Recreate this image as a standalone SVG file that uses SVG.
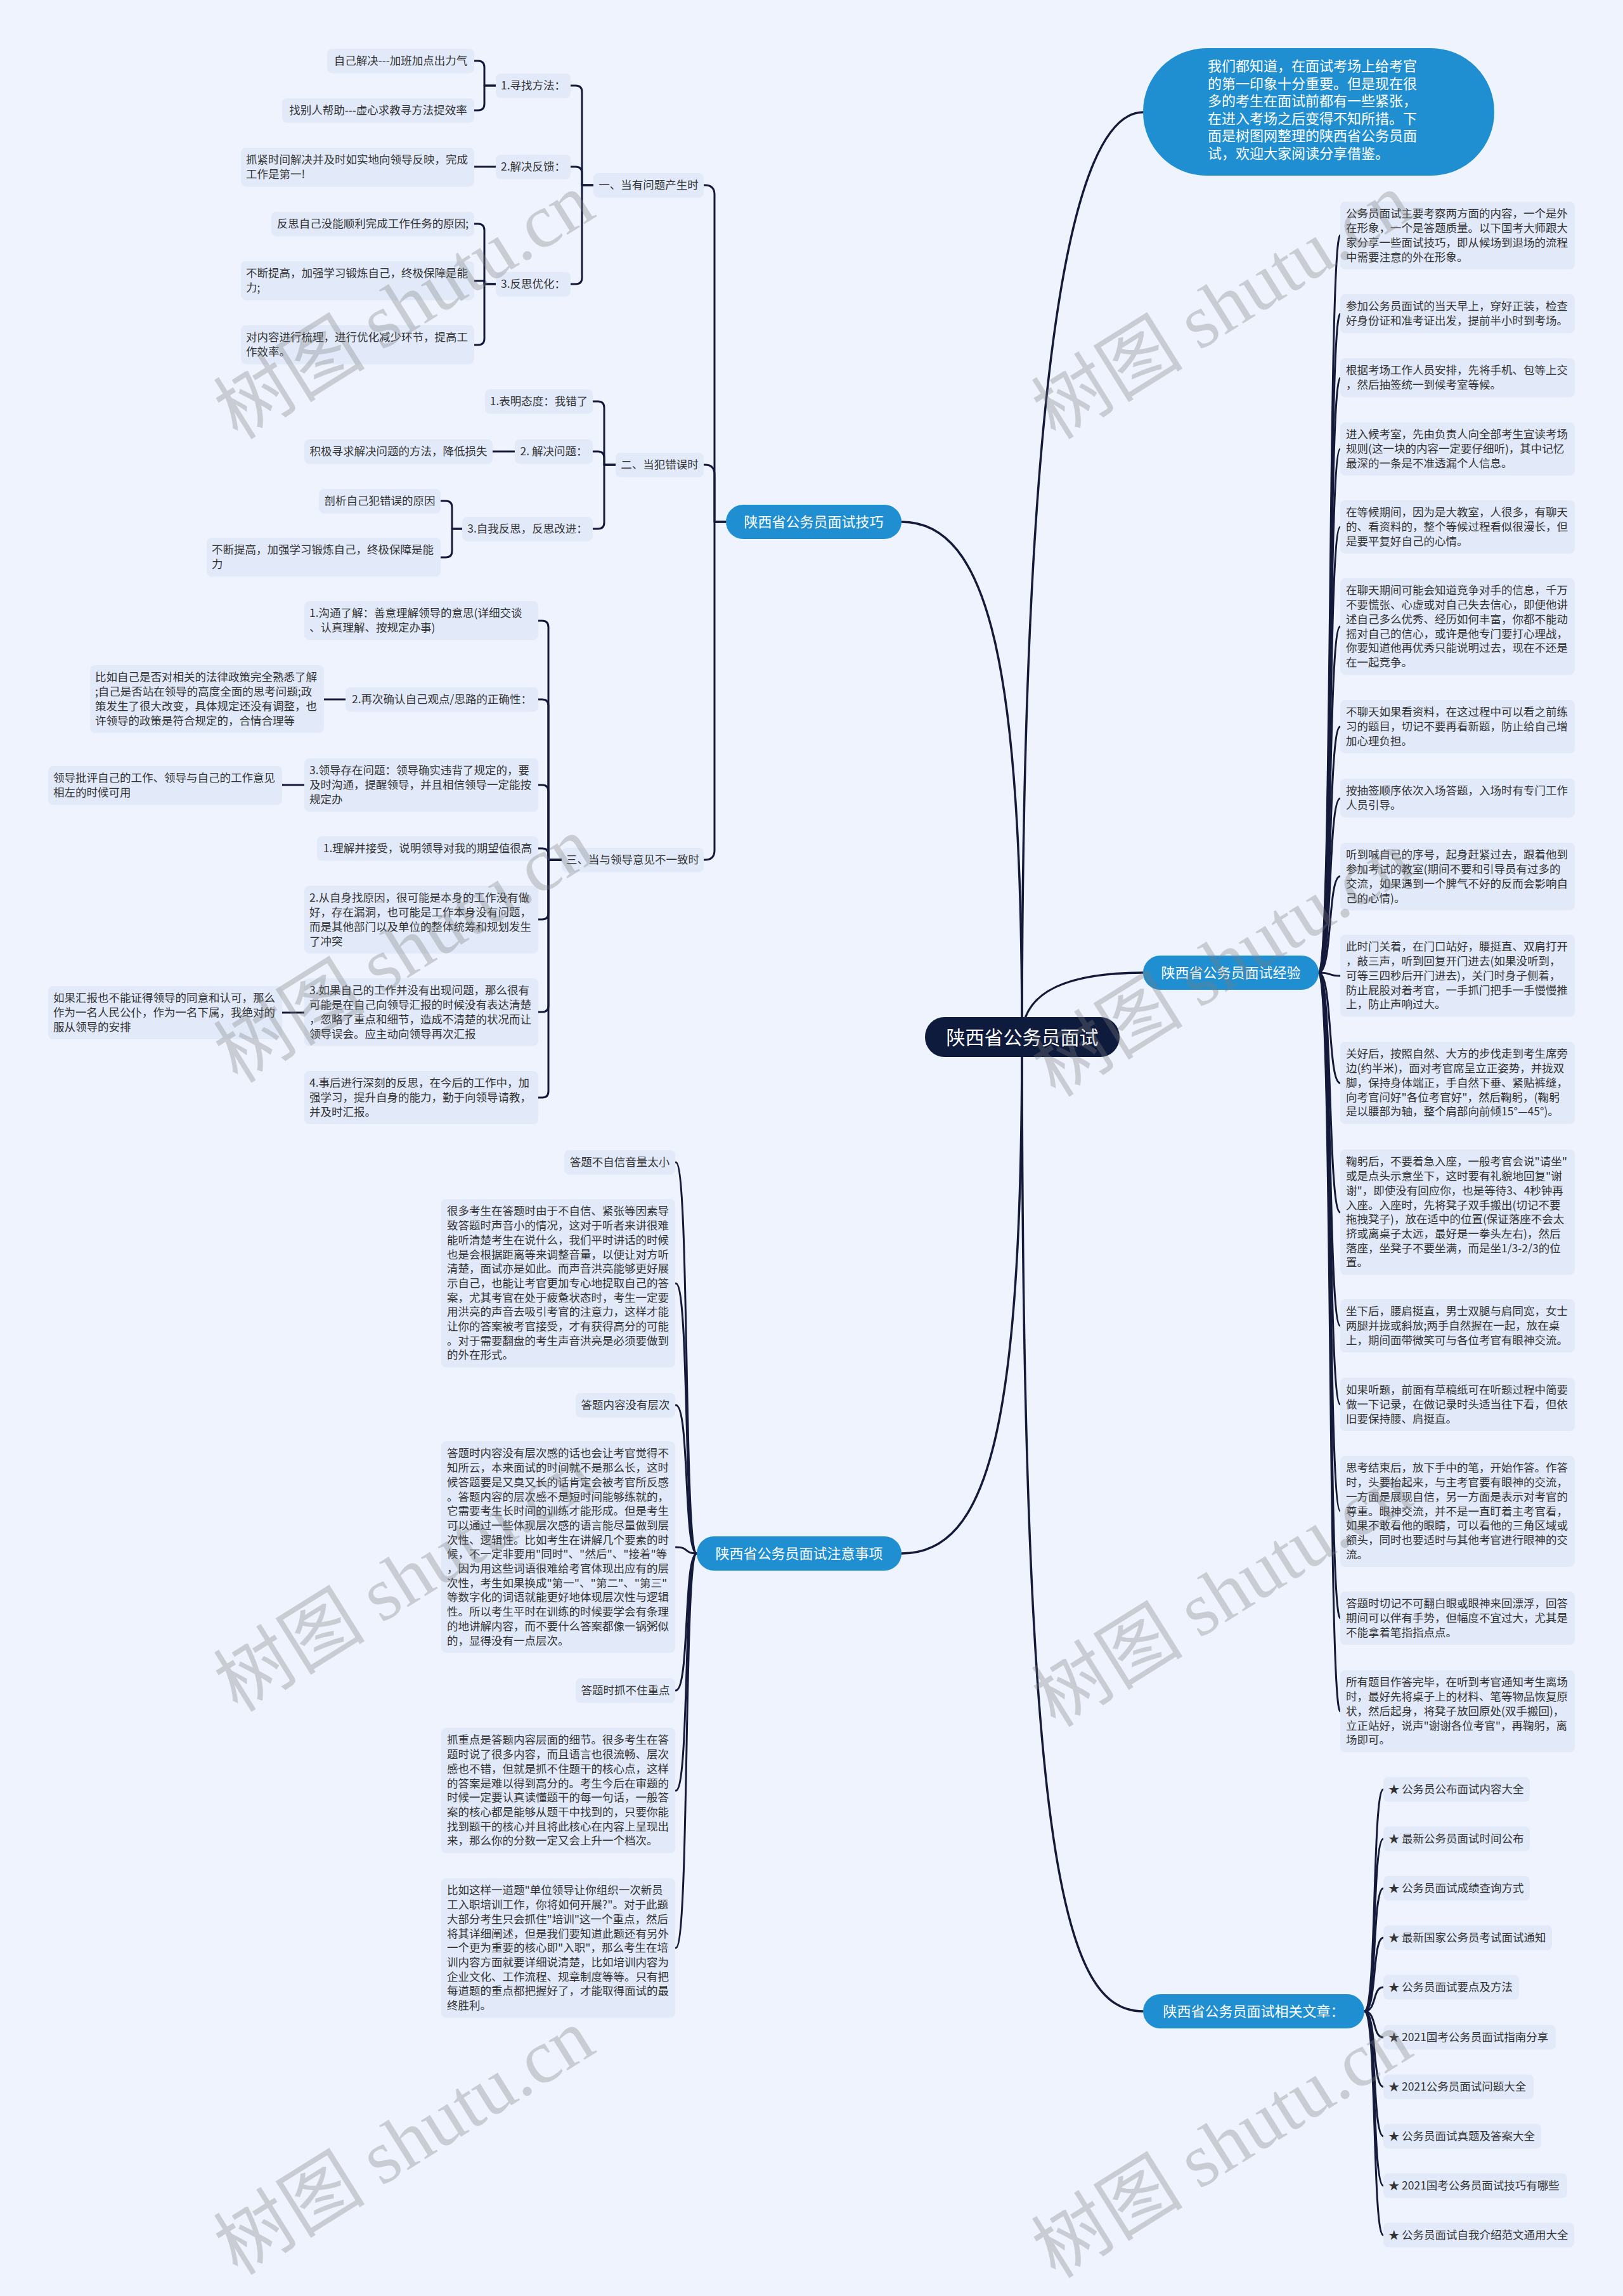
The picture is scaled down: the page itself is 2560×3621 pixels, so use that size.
<svg xmlns="http://www.w3.org/2000/svg" width="2560" height="3621" viewBox="0 0 2560 3621">
<style>
.t{font-family:"Noto Sans CJK SC","Noto Sans",sans-serif;font-size:17.5px;fill:#333}
.m{text-anchor:middle}
.n{fill:#e2eafa}
.ln{fill:none;stroke:#151a3a;stroke-width:3;stroke-linecap:round;stroke-linejoin:round}
.ml{fill:none;stroke:#151a3a;stroke-width:3.5;stroke-linecap:round}
.br{fill:#1f8fd2}
.bt{font-family:"Noto Sans CJK SC","Noto Sans",sans-serif;font-size:22px;fill:#fff;text-anchor:middle}
.bb{font-family:"Noto Sans CJK SC","Noto Sans",sans-serif;font-size:22px;fill:#fff}
.ct{font-family:"Noto Sans CJK SC","Noto Sans",sans-serif;font-size:30px;fill:#fff;text-anchor:middle}
.wm{font-family:"Noto Sans CJK SC",sans-serif;font-size:120px;fill:#7d7d7d;fill-opacity:0.32}
.ws{font-family:"Liberation Serif",serif}
</style>
<rect x="0" y="0" width="2560" height="3621" fill="#eef3fd"/>

<g id="connectors">
  <path class="ml" d="M1612 1636 C1612 1050 1560 823 1422 823"/>
  <path class="ml" d="M1612 1636 C1612 650 1680 177 1803 177"/>
  <path class="ml" d="M1612 1636 C1612 1560 1690 1534 1803 1534"/>
  <path class="ml" d="M1612 1636 C1612 2250 1560 2450 1422 2450"/>
  <path class="ml" d="M1612 1636 C1612 2950 1680 3172 1803 3172"/>
  <path class="ln" d="M1145 823 H1127 V307 Q1127 292 1112 292 H1110"/>
  <path class="ln" d="M1145 823 H1127 V748 Q1127 733 1112 733 H1110"/>
  <path class="ln" d="M1145 823 H1127 V1341 Q1127 1356 1112 1356 H1110"/>
  <path class="ln" d="M936 292 H918 V145 Q918 135 908 135 H900"/>
  <path class="ln" d="M936 292 H918 V273 Q918 263 908 263 H900"/>
  <path class="ln" d="M936 292 H918 V438 Q918 448 908 448 H900"/>
  <path class="ln" d="M782 135 H764 V106 Q764 96 754 96 H748"/>
  <path class="ln" d="M782 135 H764 V164 Q764 174 754 174 H748"/>
  <path class="ln" d="M782 263 H748"/>
  <path class="ln" d="M782 448 H764 V363 Q764 353 754 353 H748"/>
  <path class="ln" d="M782 448 H764 V443 H748"/>
  <path class="ln" d="M782 448 H764 V534 Q764 544 754 544 H748"/>
  <path class="ln" d="M971 733 H953 V643 Q953 633 943 633 H935"/>
  <path class="ln" d="M971 733 H953 V722 Q953 712 943 712 H935"/>
  <path class="ln" d="M971 733 H953 V824 Q953 834 943 834 H935"/>
  <path class="ln" d="M812 712 H777"/>
  <path class="ln" d="M729 834 H713 V800 Q713 790 703 790 H695"/>
  <path class="ln" d="M729 834 H713 V869 Q713 879 703 879 H695"/>
  <path class="ln" d="M886 1356 H865 V989 Q865 979 855 979 H849"/>
  <path class="ln" d="M886 1356 H865 V1113 Q865 1103 855 1103 H849"/>
  <path class="ln" d="M886 1356 H865 V1248 Q865 1238 855 1238 H849"/>
  <path class="ln" d="M886 1356 H865 V1348 Q865 1338 855 1338 H849"/>
  <path class="ln" d="M886 1356 H865 V1440 Q865 1450 855 1450 H849"/>
  <path class="ln" d="M886 1356 H865 V1586 Q865 1596 855 1596 H849"/>
  <path class="ln" d="M886 1356 H865 V1721 Q865 1731 855 1731 H849"/>
  <path class="ln" d="M545 1103 H511"/>
  <path class="ln" d="M480 1238 H445"/>
  <path class="ln" d="M480 1597 H445"/>
  <path class="ln" d="M1099 2450 C1078 2450 1088 1833 1066 1833"/>
  <path class="ln" d="M1099 2450 C1078 2450 1088 2024 1066 2024"/>
  <path class="ln" d="M1099 2450 C1078 2450 1088 2216 1066 2216"/>
  <path class="ln" d="M1099 2450 C1078 2450 1088 2440 1066 2440"/>
  <path class="ln" d="M1099 2450 C1078 2450 1088 2666 1066 2666"/>
  <path class="ln" d="M1099 2450 C1078 2450 1088 2824 1066 2824"/>
  <path class="ln" d="M1099 2450 C1078 2450 1088 3072 1066 3072"/>
  <path class="ln" d="M2080 1534 C2102 1534 2094 371 2114 371"/>
  <path class="ln" d="M2080 1534 C2102 1534 2094 495 2114 495"/>
  <path class="ln" d="M2080 1534 C2102 1534 2094 596 2114 596"/>
  <path class="ln" d="M2080 1534 C2102 1534 2094 708 2114 708"/>
  <path class="ln" d="M2080 1534 C2102 1534 2094 831 2114 831"/>
  <path class="ln" d="M2080 1534 C2102 1534 2094 988 2114 988"/>
  <path class="ln" d="M2080 1534 C2102 1534 2094 1146 2114 1146"/>
  <path class="ln" d="M2080 1534 C2102 1534 2094 1259 2114 1259"/>
  <path class="ln" d="M2080 1534 C2102 1534 2094 1382 2114 1382"/>
  <path class="ln" d="M2080 1534 C2102 1534 2094 1539 2114 1539"/>
  <path class="ln" d="M2080 1534 C2102 1534 2094 1708 2114 1708"/>
  <path class="ln" d="M2080 1534 C2102 1534 2094 1912 2114 1912"/>
  <path class="ln" d="M2080 1534 C2102 1534 2094 2091 2114 2091"/>
  <path class="ln" d="M2080 1534 C2102 1534 2094 2215 2114 2215"/>
  <path class="ln" d="M2080 1534 C2102 1534 2094 2383 2114 2383"/>
  <path class="ln" d="M2080 1534 C2102 1534 2094 2552 2114 2552"/>
  <path class="ln" d="M2080 1534 C2102 1534 2094 2699 2114 2699"/>
  <path class="ln" d="M2152 3172 C2172 3172 2164 2822 2182 2822"/>
  <path class="ln" d="M2152 3172 C2172 3172 2164 2900 2182 2900"/>
  <path class="ln" d="M2152 3172 C2172 3172 2164 2978 2182 2978"/>
  <path class="ln" d="M2152 3172 C2172 3172 2164 3056 2182 3056"/>
  <path class="ln" d="M2152 3172 C2172 3172 2164 3134 2182 3134"/>
  <path class="ln" d="M2152 3172 C2172 3172 2164 3213 2182 3213"/>
  <path class="ln" d="M2152 3172 C2172 3172 2164 3291 2182 3291"/>
  <path class="ln" d="M2152 3172 C2172 3172 2164 3369 2182 3369"/>
  <path class="ln" d="M2152 3172 C2172 3172 2164 3447 2182 3447"/>
  <path class="ln" d="M2152 3172 C2172 3172 2164 3525 2182 3525"/>
</g>

<g id="center"><rect x="1459" y="1604" width="307" height="63" rx="31" fill="#0f1b3d"/><text class="ct" x="1612.5" y="1647">陕西省公务员面试</text></g>

<g id="intro"><rect x="1803" y="76" width="554" height="201" rx="100" class="br"/>
<text class="bb" x="1905" y="112"><tspan x="1905">我们都知道，在面试考场上给考官</tspan><tspan x="1905" dy="27.5">的第一印象十分重要。但是现在很</tspan><tspan x="1905" dy="27.5">多的考生在面试前都有一些紧张，</tspan><tspan x="1905" dy="27.5">在进入考场之后变得不知所措。下</tspan><tspan x="1905" dy="27.5">面是树图网整理的陕西省公务员面</tspan><tspan x="1905" dy="27.5">试，欢迎大家阅读分享借鉴。</tspan></text></g>

<g id="b-jiqiao"><rect x="1145" y="796" width="277" height="54" rx="27" class="br"/><text class="bt" x="1283.5" y="831">陕西省公务员面试技巧</text></g>
<g id="b-jingyan"><rect x="1803" y="1507" width="277" height="54" rx="27" class="br"/><text class="bt" x="1941.5" y="1542">陕西省公务员面试经验</text></g>
<g id="b-zhuyi"><rect x="1099" y="2423" width="323" height="54" rx="27" class="br"/><text class="bt" x="1260.5" y="2458">陕西省公务员面试注意事项</text></g>
<g id="b-xiangguan"><rect x="1803" y="3145" width="349" height="54" rx="27" class="br"/><text class="bt" x="1977.5" y="3180">陕西省公务员面试相关文章：</text></g>

<g id="n1"><rect class="n" x="516" y="77" width="232" height="38.7" rx="8"/><text class="t m" x="632" y="102.4">自己解决---加班加点出力气</text></g>
<g id="n2"><rect class="n" x="445" y="155" width="303" height="38.7" rx="8"/><text class="t m" x="596.5" y="180.4">找别人帮助---虚心求教寻方法提效率</text></g>
<g id="n3"><rect class="n" x="782" y="116" width="118" height="38.7" rx="8"/><text class="t m" x="841" y="141.4">1.寻找方法：</text></g>
<g id="n4"><rect class="n" x="380" y="233" width="368" height="61.4" rx="8"/><text class="t" x="388" y="258.4"><tspan x="388">抓紧时间解决并及时如实地向领导反映，完成</tspan><tspan x="388" dy="22.7">工作是第一!</tspan></text></g>
<g id="n5"><rect class="n" x="782" y="244" width="118" height="38.7" rx="8"/><text class="t m" x="841" y="269.4">2.解决反馈：</text></g>
<g id="n6"><rect class="n" x="428" y="334" width="320" height="38.7" rx="8"/><text class="t m" x="588" y="359.4">反思自己没能顺利完成工作任务的原因;</text></g>
<g id="n7"><rect class="n" x="380" y="412" width="368" height="61.4" rx="8"/><text class="t" x="388" y="437.4"><tspan x="388">不断提高，加强学习锻炼自己，终极保障是能</tspan><tspan x="388" dy="22.7">力;</tspan></text></g>
<g id="n8"><rect class="n" x="380" y="513" width="368" height="61.4" rx="8"/><text class="t" x="388" y="538.4"><tspan x="388">对内容进行梳理，进行优化减少环节，提高工</tspan><tspan x="388" dy="22.7">作效率。</tspan></text></g>
<g id="n9"><rect class="n" x="782" y="429" width="118" height="38.7" rx="8"/><text class="t m" x="841" y="454.4">3.反思优化：</text></g>
<g id="n10"><rect class="n" x="936" y="273" width="174" height="38.7" rx="8"/><text class="t m" x="1023" y="298.4">一、当有问题产生时</text></g>
<g id="n11"><rect class="n" x="765" y="614" width="170" height="38.7" rx="8"/><text class="t m" x="850" y="639.4">1.表明态度：我错了</text></g>
<g id="n12"><rect class="n" x="480" y="693" width="297" height="38.7" rx="8"/><text class="t m" x="628.5" y="718.4">积极寻求解决问题的方法，降低损失</text></g>
<g id="n13"><rect class="n" x="812" y="693" width="123" height="38.7" rx="8"/><text class="t m" x="873.5" y="718.4">2. 解决问题：</text></g>
<g id="n14"><rect class="n" x="503" y="771" width="192" height="38.7" rx="8"/><text class="t m" x="599" y="796.4">剖析自己犯错误的原因</text></g>
<g id="n15"><rect class="n" x="326" y="848" width="369" height="61.4" rx="8"/><text class="t" x="334" y="873.4"><tspan x="334">不断提高，加强学习锻炼自己，终极保障是能</tspan><tspan x="334" dy="22.7">力</tspan></text></g>
<g id="n16"><rect class="n" x="729" y="815" width="206" height="38.7" rx="8"/><text class="t m" x="832" y="840.4">3.自我反思，反思改进：</text></g>
<g id="n17"><rect class="n" x="971" y="714" width="139" height="38.7" rx="8"/><text class="t m" x="1040.5" y="739.4">二、当犯错误时</text></g>
<g id="n18"><rect class="n" x="480" y="948" width="369" height="61.4" rx="8"/><text class="t" x="488" y="973.4"><tspan x="488">1.沟通了解：善意理解领导的意思(详细交谈</tspan><tspan x="488" dy="22.7">、认真理解、按规定办事)</tspan></text></g>
<g id="n19"><rect class="n" x="142" y="1049" width="369" height="106.8" rx="8"/><text class="t" x="150" y="1074.4"><tspan x="150">比如自己是否对相关的法律政策完全熟悉了解</tspan><tspan x="150" dy="22.7">;自己是否站在领导的高度全面的思考问题;政</tspan><tspan x="150" dy="22.7">策发生了很大改变，具体规定还没有调整，也</tspan><tspan x="150" dy="22.7">许领导的政策是符合规定的，合情合理等</tspan></text></g>
<g id="n20"><rect class="n" x="545" y="1084" width="304" height="38.7" rx="8"/><text class="t m" x="697" y="1109.4">2.再次确认自己观点/思路的正确性：</text></g>
<g id="n21"><rect class="n" x="76" y="1208" width="369" height="61.4" rx="8"/><text class="t" x="84" y="1233.4"><tspan x="84">领导批评自己的工作、领导与自己的工作意见</tspan><tspan x="84" dy="22.7">相左的时候可用</tspan></text></g>
<g id="n22"><rect class="n" x="480" y="1196" width="369" height="84.1" rx="8"/><text class="t" x="488" y="1221.4"><tspan x="488">3.领导存在问题：领导确实违背了规定的，要</tspan><tspan x="488" dy="22.7">及时沟通，提醒领导，并且相信领导一定能按</tspan><tspan x="488" dy="22.7">规定办</tspan></text></g>
<g id="n23"><rect class="n" x="500" y="1319" width="349" height="38.7" rx="8"/><text class="t m" x="674.5" y="1344.4">1.理解并接受，说明领导对我的期望值很高</text></g>
<g id="n24"><rect class="n" x="480" y="1397" width="369" height="106.8" rx="8"/><text class="t" x="488" y="1422.4"><tspan x="488">2.从自身找原因，很可能是本身的工作没有做</tspan><tspan x="488" dy="22.7">好，存在漏洞，也可能是工作本身没有问题，</tspan><tspan x="488" dy="22.7">而是其他部门以及单位的整体统筹和规划发生</tspan><tspan x="488" dy="22.7">了冲突</tspan></text></g>
<g id="n25"><rect class="n" x="76" y="1555" width="369" height="84.1" rx="8"/><text class="t" x="84" y="1580.4"><tspan x="84">如果汇报也不能证得领导的同意和认可，那么</tspan><tspan x="84" dy="22.7">作为一名人民公仆，作为一名下属，我绝对的</tspan><tspan x="84" dy="22.7">服从领导的安排</tspan></text></g>
<g id="n26"><rect class="n" x="480" y="1543" width="369" height="106.8" rx="8"/><text class="t" x="488" y="1568.4"><tspan x="488">3.如果自己的工作并没有出现问题，那么很有</tspan><tspan x="488" dy="22.7">可能是在自己向领导汇报的时候没有表达清楚</tspan><tspan x="488" dy="22.7">，忽略了重点和细节，造成不清楚的状况而让</tspan><tspan x="488" dy="22.7">领导误会。应主动向领导再次汇报</tspan></text></g>
<g id="n27"><rect class="n" x="480" y="1689" width="369" height="84.1" rx="8"/><text class="t" x="488" y="1714.4"><tspan x="488">4.事后进行深刻的反思，在今后的工作中，加</tspan><tspan x="488" dy="22.7">强学习，提升自身的能力，勤于向领导请教，</tspan><tspan x="488" dy="22.7">并及时汇报。</tspan></text></g>
<g id="n28"><rect class="n" x="886" y="1337" width="224" height="38.7" rx="8"/><text class="t m" x="998" y="1362.4">三、当与领导意见不一致时</text></g>

<g id="m1"><rect class="n" x="890" y="1814" width="175" height="38.7" rx="8"/><text class="t m" x="977.5" y="1839.4">答题不自信音量太小</text></g>
<g id="m2"><rect class="n" x="696" y="1891" width="369" height="265.7" rx="8"/><text class="t" x="705" y="1916.4"><tspan x="705">很多考生在答题时由于不自信、紧张等因素导</tspan><tspan x="705" dy="22.7">致答题时声音小的情况，这对于听者来讲很难</tspan><tspan x="705" dy="22.7">能听清楚考生在说什么，我们平时讲话的时候</tspan><tspan x="705" dy="22.7">也是会根据距离等来调整音量，以便让对方听</tspan><tspan x="705" dy="22.7">清楚，面试亦是如此。而声音洪亮能够更好展</tspan><tspan x="705" dy="22.7">示自己，也能让考官更加专心地提取自己的答</tspan><tspan x="705" dy="22.7">案，尤其考官在处于疲惫状态时，考生一定要</tspan><tspan x="705" dy="22.7">用洪亮的声音去吸引考官的注意力，这样才能</tspan><tspan x="705" dy="22.7">让你的答案被考官接受，才有获得高分的可能</tspan><tspan x="705" dy="22.7">。对于需要翻盘的考生声音洪亮是必须要做到</tspan><tspan x="705" dy="22.7">的外在形式。</tspan></text></g>
<g id="m3"><rect class="n" x="908" y="2197" width="157" height="38.7" rx="8"/><text class="t m" x="986.5" y="2222.4">答题内容没有层次</text></g>
<g id="m4"><rect class="n" x="696" y="2273" width="369" height="333.8" rx="8"/><text class="t" x="705" y="2298.4"><tspan x="705">答题时内容没有层次感的话也会让考官觉得不</tspan><tspan x="705" dy="22.7">知所云，本来面试的时间就不是那么长，这时</tspan><tspan x="705" dy="22.7">候答题要是又臭又长的话肯定会被考官所反感</tspan><tspan x="705" dy="22.7">。答题内容的层次感不是短时间能够练就的，</tspan><tspan x="705" dy="22.7">它需要考生长时间的训练才能形成。但是考生</tspan><tspan x="705" dy="22.7">可以通过一些体现层次感的语言能尽量做到层</tspan><tspan x="705" dy="22.7">次性、逻辑性。比如考生在讲解几个要素的时</tspan><tspan x="705" dy="22.7">候，不一定非要用"同时"、"然后"、"接着"等</tspan><tspan x="705" dy="22.7">，因为用这些词语很难给考官体现出应有的层</tspan><tspan x="705" dy="22.7">次性，考生如果换成"第一"、"第二"、"第三"</tspan><tspan x="705" dy="22.7">等数字化的词语就能更好地体现层次性与逻辑</tspan><tspan x="705" dy="22.7">性。所以考生平时在训练的时候要学会有条理</tspan><tspan x="705" dy="22.7">的地讲解内容，而不要什么答案都像一锅粥似</tspan><tspan x="705" dy="22.7">的，显得没有一点层次。</tspan></text></g>
<g id="m5"><rect class="n" x="908" y="2647" width="157" height="38.7" rx="8"/><text class="t m" x="986.5" y="2672.4">答题时抓不住重点</text></g>
<g id="m6"><rect class="n" x="696" y="2725" width="369" height="197.6" rx="8"/><text class="t" x="705" y="2750.4"><tspan x="705">抓重点是答题内容层面的细节。很多考生在答</tspan><tspan x="705" dy="22.7">题时说了很多内容，而且语言也很流畅、层次</tspan><tspan x="705" dy="22.7">感也不错，但就是抓不住题干的核心点，这样</tspan><tspan x="705" dy="22.7">的答案是难以得到高分的。考生今后在审题的</tspan><tspan x="705" dy="22.7">时候一定要认真读懂题干的每一句话，一般答</tspan><tspan x="705" dy="22.7">案的核心都是能够从题干中找到的，只要你能</tspan><tspan x="705" dy="22.7">找到题干的核心并且将此核心在内容上呈现出</tspan><tspan x="705" dy="22.7">来，那么你的分数一定又会上升一个档次。</tspan></text></g>
<g id="m7"><rect class="n" x="696" y="2962" width="369" height="220.3" rx="8"/><text class="t" x="705" y="2987.4"><tspan x="705">比如这样一道题"单位领导让你组织一次新员</tspan><tspan x="705" dy="22.7">工入职培训工作，你将如何开展?"。对于此题</tspan><tspan x="705" dy="22.7">大部分考生只会抓住"培训"这一个重点，然后</tspan><tspan x="705" dy="22.7">将其详细阐述，但是我们要知道此题还有另外</tspan><tspan x="705" dy="22.7">一个更为重要的核心即"入职"，那么考生在培</tspan><tspan x="705" dy="22.7">训内容方面就要详细说清楚，比如培训内容为</tspan><tspan x="705" dy="22.7">企业文化、工作流程、规章制度等等。只有把</tspan><tspan x="705" dy="22.7">每道题的重点都把握好了，才能取得面试的最</tspan><tspan x="705" dy="22.7">终胜利。</tspan></text></g>

<g id="e1"><rect class="n" x="2114" y="318" width="370" height="106.8" rx="8"/><text class="t" x="2123" y="343.4"><tspan x="2123">公务员面试主要考察两方面的内容，一个是外</tspan><tspan x="2123" dy="22.7">在形象，一个是答题质量。以下国考大师跟大</tspan><tspan x="2123" dy="22.7">家分享一些面试技巧，即从候场到退场的流程</tspan><tspan x="2123" dy="22.7">中需要注意的外在形象。</tspan></text></g>
<g id="e2"><rect class="n" x="2114" y="464" width="370" height="61.4" rx="8"/><text class="t" x="2123" y="489.4"><tspan x="2123">参加公务员面试的当天早上，穿好正装，检查</tspan><tspan x="2123" dy="22.7">好身份证和准考证出发，提前半小时到考场。</tspan></text></g>
<g id="e3"><rect class="n" x="2114" y="565" width="370" height="61.4" rx="8"/><text class="t" x="2123" y="590.4"><tspan x="2123">根据考场工作人员安排，先将手机、包等上交</tspan><tspan x="2123" dy="22.7">，然后抽签统一到候考室等候。</tspan></text></g>
<g id="e4"><rect class="n" x="2114" y="666" width="370" height="84.1" rx="8"/><text class="t" x="2123" y="691.4"><tspan x="2123">进入候考室，先由负责人向全部考生宣读考场</tspan><tspan x="2123" dy="22.7">规则(这一块的内容一定要仔细听)，其中记忆</tspan><tspan x="2123" dy="22.7">最深的一条是不准透漏个人信息。</tspan></text></g>
<g id="e5"><rect class="n" x="2114" y="789" width="370" height="84.1" rx="8"/><text class="t" x="2123" y="814.4"><tspan x="2123">在等候期间，因为是大教室，人很多，有聊天</tspan><tspan x="2123" dy="22.7">的、看资料的，整个等候过程看似很漫长，但</tspan><tspan x="2123" dy="22.7">是要平复好自己的心情。</tspan></text></g>
<g id="e6"><rect class="n" x="2114" y="912" width="370" height="152.2" rx="8"/><text class="t" x="2123" y="937.4"><tspan x="2123">在聊天期间可能会知道竞争对手的信息，千万</tspan><tspan x="2123" dy="22.7">不要慌张、心虚或对自己失去信心，即便他讲</tspan><tspan x="2123" dy="22.7">述自己多么优秀、经历如何丰富，你都不能动</tspan><tspan x="2123" dy="22.7">摇对自己的信心，或许是他专门要打心理战，</tspan><tspan x="2123" dy="22.7">你要知道他再优秀只能说明过去，现在不还是</tspan><tspan x="2123" dy="22.7">在一起竞争。</tspan></text></g>
<g id="e7"><rect class="n" x="2114" y="1104" width="370" height="84.1" rx="8"/><text class="t" x="2123" y="1129.4"><tspan x="2123">不聊天如果看资料，在这过程中可以看之前练</tspan><tspan x="2123" dy="22.7">习的题目，切记不要再看新题，防止给自己增</tspan><tspan x="2123" dy="22.7">加心理负担。</tspan></text></g>
<g id="e8"><rect class="n" x="2114" y="1228" width="370" height="61.4" rx="8"/><text class="t" x="2123" y="1253.4"><tspan x="2123">按抽签顺序依次入场答题，入场时有专门工作</tspan><tspan x="2123" dy="22.7">人员引导。</tspan></text></g>
<g id="e9"><rect class="n" x="2114" y="1329" width="370" height="106.8" rx="8"/><text class="t" x="2123" y="1354.4"><tspan x="2123">听到喊自己的序号，起身赶紧过去，跟着他到</tspan><tspan x="2123" dy="22.7">参加考试的教室(期间不要和引导员有过多的</tspan><tspan x="2123" dy="22.7">交流，如果遇到一个脾气不好的反而会影响自</tspan><tspan x="2123" dy="22.7">己的心情)。</tspan></text></g>
<g id="e10"><rect class="n" x="2114" y="1474" width="370" height="129.5" rx="8"/><text class="t" x="2123" y="1499.4"><tspan x="2123">此时门关着，在门口站好，腰挺直、双肩打开</tspan><tspan x="2123" dy="22.7">，敲三声，听到回复开门进去(如果没听到，</tspan><tspan x="2123" dy="22.7">可等三四秒后开门进去)，关门时身子侧着，</tspan><tspan x="2123" dy="22.7">防止屁股对着考官，一手抓门把手一手慢慢推</tspan><tspan x="2123" dy="22.7">上，防止声响过大。</tspan></text></g>
<g id="e11"><rect class="n" x="2114" y="1643" width="370" height="129.5" rx="8"/><text class="t" x="2123" y="1668.4"><tspan x="2123">关好后，按照自然、大方的步伐走到考生席旁</tspan><tspan x="2123" dy="22.7">边(约半米)，面对考官席呈立正姿势，并拢双</tspan><tspan x="2123" dy="22.7">脚，保持身体端正，手自然下垂、紧贴裤缝，</tspan><tspan x="2123" dy="22.7">向考官问好"各位考官好"，然后鞠躬，(鞠躬</tspan><tspan x="2123" dy="22.7">是以腰部为轴，整个肩部向前倾15°—45°)。</tspan></text></g>
<g id="e12"><rect class="n" x="2114" y="1813" width="370" height="197.6" rx="8"/><text class="t" x="2123" y="1838.4"><tspan x="2123">鞠躬后，不要着急入座，一般考官会说"请坐"</tspan><tspan x="2123" dy="22.7">或是点头示意坐下，这时要有礼貌地回复"谢</tspan><tspan x="2123" dy="22.7">谢"，即使没有回应你，也是等待3、4秒钟再</tspan><tspan x="2123" dy="22.7">入座。入座时，先将凳子双手搬出(切记不要</tspan><tspan x="2123" dy="22.7">拖拽凳子)，放在适中的位置(保证落座不会太</tspan><tspan x="2123" dy="22.7">挤或离桌子太远，最好是一拳头左右)，然后</tspan><tspan x="2123" dy="22.7">落座，坐凳子不要坐满，而是坐1/3-2/3的位</tspan><tspan x="2123" dy="22.7">置。</tspan></text></g>
<g id="e13"><rect class="n" x="2114" y="2049" width="370" height="84.1" rx="8"/><text class="t" x="2123" y="2074.4"><tspan x="2123">坐下后，腰肩挺直，男士双腿与肩同宽，女士</tspan><tspan x="2123" dy="22.7">两腿并拢或斜放;两手自然握在一起，放在桌</tspan><tspan x="2123" dy="22.7">上，期间面带微笑可与各位考官有眼神交流。</tspan></text></g>
<g id="e14"><rect class="n" x="2114" y="2173" width="370" height="84.1" rx="8"/><text class="t" x="2123" y="2198.4"><tspan x="2123">如果听题，前面有草稿纸可在听题过程中简要</tspan><tspan x="2123" dy="22.7">做一下记录，在做记录时头适当往下看，但依</tspan><tspan x="2123" dy="22.7">旧要保持腰、肩挺直。</tspan></text></g>
<g id="e15"><rect class="n" x="2114" y="2296" width="370" height="174.9" rx="8"/><text class="t" x="2123" y="2321.4"><tspan x="2123">思考结束后，放下手中的笔，开始作答。作答</tspan><tspan x="2123" dy="22.7">时，头要抬起来，与主考官要有眼神的交流，</tspan><tspan x="2123" dy="22.7">一方面是展现自信，另一方面是表示对考官的</tspan><tspan x="2123" dy="22.7">尊重。眼神交流，并不是一直盯着主考官看，</tspan><tspan x="2123" dy="22.7">如果不敢看他的眼睛，可以看他的三角区域或</tspan><tspan x="2123" dy="22.7">额头，同时也要适时与其他考官进行眼神的交</tspan><tspan x="2123" dy="22.7">流。</tspan></text></g>
<g id="e16"><rect class="n" x="2114" y="2510" width="370" height="84.1" rx="8"/><text class="t" x="2123" y="2535.4"><tspan x="2123">答题时切记不可翻白眼或眼神来回漂浮，回答</tspan><tspan x="2123" dy="22.7">期间可以伴有手势，但幅度不宜过大，尤其是</tspan><tspan x="2123" dy="22.7">不能拿着笔指指点点。</tspan></text></g>
<g id="e17"><rect class="n" x="2114" y="2634" width="370" height="129.5" rx="8"/><text class="t" x="2123" y="2659.4"><tspan x="2123">所有题目作答完毕，在听到考官通知考生离场</tspan><tspan x="2123" dy="22.7">时，最好先将桌子上的材料、笔等物品恢复原</tspan><tspan x="2123" dy="22.7">状，然后起身，将凳子放回原处(双手搬回)，</tspan><tspan x="2123" dy="22.7">立正站好，说声"谢谢各位考官"，再鞠躬，离</tspan><tspan x="2123" dy="22.7">场即可。</tspan></text></g>

<g id="r1"><rect class="n" x="2182" y="2802.5" width="231" height="39" rx="8"/><text class="t" x="2190" y="2828">★</text><text class="t" x="2211" y="2828">公务员公布面试内容大全</text></g>
<g id="r2"><rect class="n" x="2182" y="2880.5" width="231" height="39" rx="8"/><text class="t" x="2190" y="2906">★</text><text class="t" x="2211" y="2906">最新公务员面试时间公布</text></g>
<g id="r3"><rect class="n" x="2182" y="2958.5" width="231" height="39" rx="8"/><text class="t" x="2190" y="2984">★</text><text class="t" x="2211" y="2984">公务员面试成绩查询方式</text></g>
<g id="r4"><rect class="n" x="2182" y="3036.5" width="266" height="39" rx="8"/><text class="t" x="2190" y="3062">★</text><text class="t" x="2211" y="3062">最新国家公务员考试面试通知</text></g>
<g id="r5"><rect class="n" x="2182" y="3114.5" width="214" height="39" rx="8"/><text class="t" x="2190" y="3140">★</text><text class="t" x="2211" y="3140">公务员面试要点及方法</text></g>
<g id="r6"><rect class="n" x="2182" y="3193.5" width="272" height="39" rx="8"/><text class="t" x="2190" y="3219">★</text><text class="t" x="2211" y="3219">2021国考公务员面试指南分享</text></g>
<g id="r7"><rect class="n" x="2182" y="3271.5" width="237" height="39" rx="8"/><text class="t" x="2190" y="3297">★</text><text class="t" x="2211" y="3297">2021公务员面试问题大全</text></g>
<g id="r8"><rect class="n" x="2182" y="3349.5" width="249" height="39" rx="8"/><text class="t" x="2190" y="3375">★</text><text class="t" x="2211" y="3375">公务员面试真题及答案大全</text></g>
<g id="r9"><rect class="n" x="2182" y="3427.5" width="290" height="39" rx="8"/><text class="t" x="2190" y="3453">★</text><text class="t" x="2211" y="3453">2021国考公务员面试技巧有哪些</text></g>
<g id="r10"><rect class="n" x="2182" y="3505.5" width="301" height="39" rx="8"/><text class="t" x="2190" y="3531">★</text><text class="t" x="2211" y="3531">公务员面试自我介绍范文通用大全</text></g>

<g id="watermarks">
  <text class="wm" transform="translate(375 695) rotate(-32)">树图 <tspan class="ws">shutu.cn</tspan></text>
  <text class="wm" transform="translate(1665 695) rotate(-32)">树图 <tspan class="ws">shutu.cn</tspan></text>
  <text class="wm" transform="translate(375 1710) rotate(-32)">树图 <tspan class="ws">shutu.cn</tspan></text>
  <text class="wm" transform="translate(1665 1732) rotate(-32)">树图 <tspan class="ws">shutu.cn</tspan></text>
  <text class="wm" transform="translate(375 2702) rotate(-32)">树图 <tspan class="ws">shutu.cn</tspan></text>
  <text class="wm" transform="translate(1665 2726) rotate(-32)">树图 <tspan class="ws">shutu.cn</tspan></text>
  <text class="wm" transform="translate(375 3590) rotate(-32)">树图 <tspan class="ws">shutu.cn</tspan></text>
  <text class="wm" transform="translate(1665 3595) rotate(-32)">树图 <tspan class="ws">shutu.cn</tspan></text>
</g>
</svg>
